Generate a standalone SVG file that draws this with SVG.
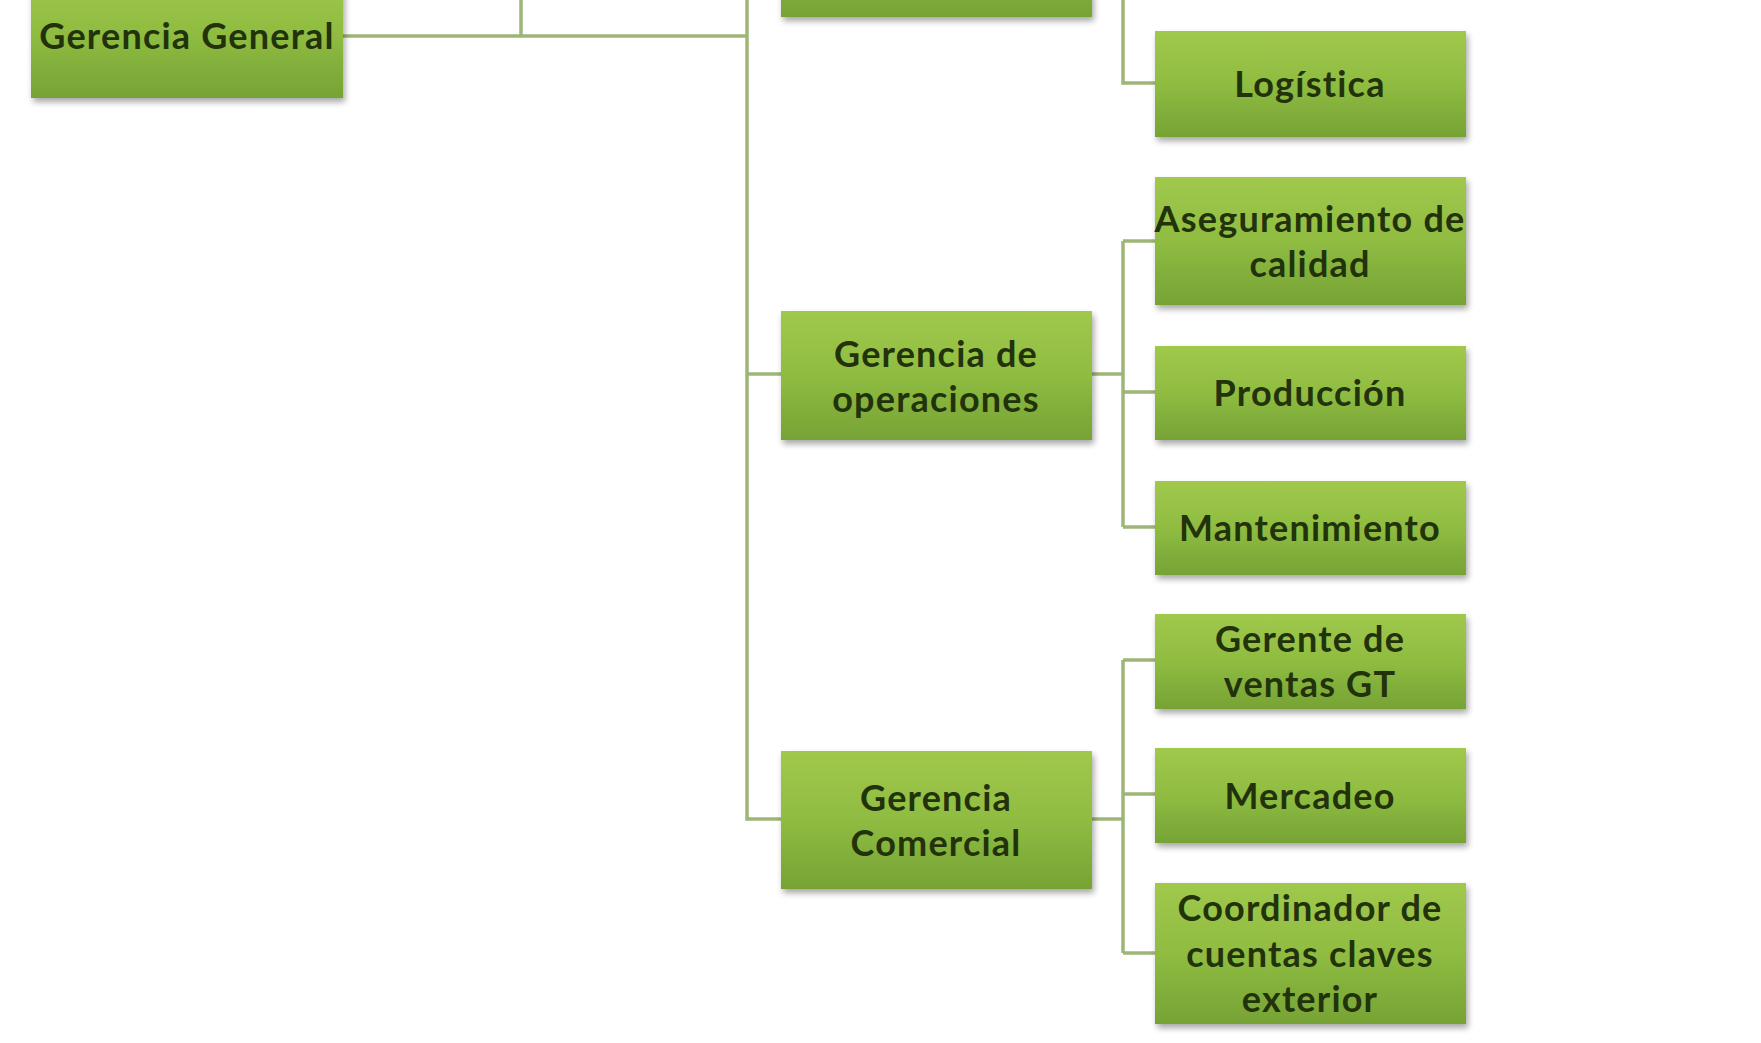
<svg xmlns="http://www.w3.org/2000/svg" width="1761" height="1043" viewBox="0 0 1761 1043">
<defs>
<linearGradient id="g" x1="0" y1="0" x2="0" y2="1">
<stop offset="0" stop-color="#a0c94c"/>
<stop offset="0.5" stop-color="#8fbc41"/>
<stop offset="1" stop-color="#76a335"/>
</linearGradient>
<filter id="sh" x="-10%" y="-10%" width="120%" height="130%">
<feGaussianBlur in="SourceAlpha" stdDeviation="3"/>
<feOffset dx="2" dy="4" result="b"/>
<feComponentTransfer><feFuncA type="linear" slope="0.35"/></feComponentTransfer>
<feMerge><feMergeNode/><feMergeNode in="SourceGraphic"/></feMerge>
</filter>
</defs>
<style>
.box{fill:url(#g);filter:url(#sh)}
.t{font-family:Lato,"Liberation Sans",sans-serif;font-weight:bold;font-size:36px;letter-spacing:1.2px;fill:#22330c;text-anchor:middle;dominant-baseline:central}
.c{fill:none;stroke:#9db676;stroke-width:3.5}
</style>
<rect width="1761" height="1043" fill="#ffffff"/>
<g id="connectors">
<path class="c" d="M343 36 H747"/>
<path class="c" d="M521 0 V36"/>
<path class="c" d="M747 0 V819 H781"/>
<path class="c" d="M747 374 H781"/>
<path class="c" d="M1123 0 V83 H1155"/>
<path class="c" d="M1092 374 H1123"/>
<path class="c" d="M1123 241 V527"/>
<path class="c" d="M1123 241 H1155"/>
<path class="c" d="M1123 392 H1155"/>
<path class="c" d="M1123 527 H1155"/>
<path class="c" d="M1092 819 H1123"/>
<path class="c" d="M1123 660 V953"/>
<path class="c" d="M1123 660 H1155"/>
<path class="c" d="M1123 794 H1155"/>
<path class="c" d="M1123 953 H1155"/>
</g>
<g id="top-right-box"><rect class="box" x="1155" y="-120" width="311" height="120"/></g>
<g id="top-mid-box"><rect class="box" x="781" y="-110" width="311" height="127"/></g>
<g id="gerencia-general"><rect class="box" x="31" y="-30" width="312" height="128"/><text class="t" x="187" y="35">Gerencia General</text></g>
<g id="logistica"><rect class="box" x="1155" y="31" width="311" height="106"/><text class="t" x="1310" y="83">Logística</text></g>
<g id="aseguramiento"><rect class="box" x="1155" y="177" width="311" height="128"/><text class="t" x="1310" y="218">Aseguramiento de</text><text class="t" x="1310" y="263">calidad</text></g>
<g id="gerencia-operaciones"><rect class="box" x="781" y="311" width="311" height="129"/><text class="t" x="936" y="353">Gerencia de</text><text class="t" x="936" y="398">operaciones</text></g>
<g id="produccion"><rect class="box" x="1155" y="346" width="311" height="94"/><text class="t" x="1310" y="392">Producción</text></g>
<g id="mantenimiento"><rect class="box" x="1155" y="481" width="311" height="94"/><text class="t" x="1310" y="527">Mantenimiento</text></g>
<g id="gerente-ventas"><rect class="box" x="1155" y="614" width="311" height="95"/><text class="t" x="1310" y="638">Gerente de</text><text class="t" x="1310" y="683">ventas GT</text></g>
<g id="mercadeo"><rect class="box" x="1155" y="748" width="311" height="95"/><text class="t" x="1310" y="795">Mercadeo</text></g>
<g id="gerencia-comercial"><rect class="box" x="781" y="751" width="311" height="138"/><text class="t" x="936" y="797">Gerencia</text><text class="t" x="936" y="842">Comercial</text></g>
<g id="coordinador"><rect class="box" x="1155" y="883" width="311" height="141"/><text class="t" x="1310" y="907">Coordinador de</text><text class="t" x="1310" y="953">cuentas claves</text><text class="t" x="1310" y="998">exterior</text></g>
</svg>
